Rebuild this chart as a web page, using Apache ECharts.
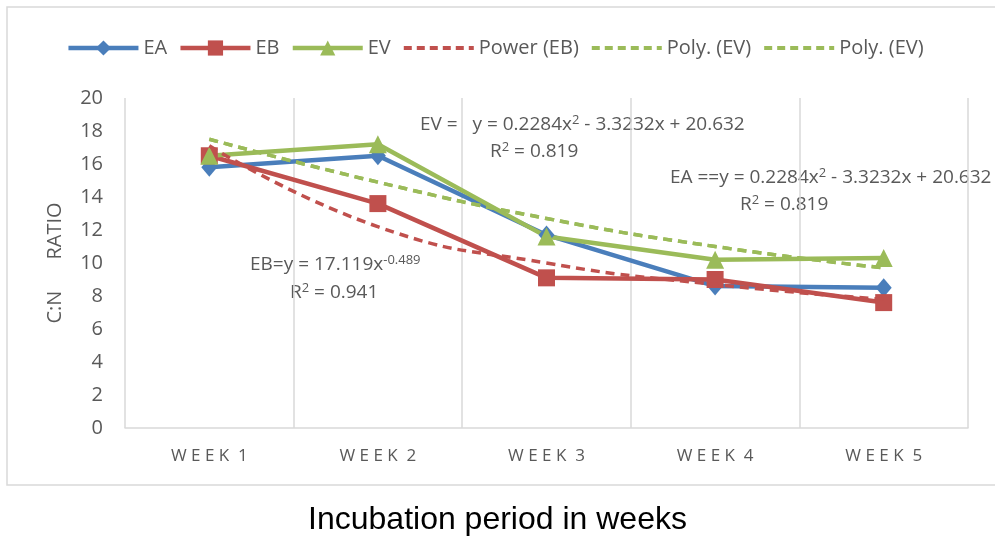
<!DOCTYPE html>
<html>
<head>
<meta charset="utf-8">
<script src="https://cdn.jsdelivr.net/npm/echarts@6/dist/echarts.min.js"></script>
<style>
  html, body { margin: 0; padding: 0; background: #fff; }
  #chart { width: 995px; height: 538px; }
</style>
</head>
<body>
<div id="chart"></div>
<script>
const categories = ['W E E K  1', 'W E E K  2', 'W E E K  3', 'W E E K  4', 'W E E K  5']
const yTicks = { min: 0, max: 20, interval: 2 }

const eaValues = [15.8, 16.5, 11.7, 8.6, 8.5]
const ebValues = [16.5, 13.6, 9.1, 9.0, 7.6]
const evValues = [16.5, 17.2, 11.6, 10.2, 10.3]
// trendlines
const powerEb = [17.1, 12.2, 10.0, 8.7, 7.8]
const polyEv = [17.5, 14.9, 12.7, 11.0, 9.7]

const BLUE = '#4a7ebb'
const RED = '#c0504d'
const GREEN = '#9bbb59'
const TEXT = '#595959'
const FONT = 'Open Sans, Noto Sans, sans-serif'

const chart = echarts.init(document.getElementById('chart'))

const eqRich = {
  a: { fontSize: 19, color: TEXT, fontFamily: FONT },
  s: { fontSize: 13, color: TEXT, fontFamily: FONT, verticalAlign: 'top', padding: [0, 0, 8, 0] }
}

const eqText = (left, top, text) => ({
  type: 'text',
  left: left,
  top: top,
  style: { text: text, rich: eqRich, fill: TEXT, font: '19px ' + FONT }
})

const mainLine = (name, data, color, symbol, size) => ({
  name: name,
  type: 'line',
  data: data,
  symbol: symbol,
  symbolSize: size,
  lineStyle: { color: color, width: 4.5 },
  itemStyle: { color: color },
  z: 3
})

const trendLine = (name, data, color) => ({
  name: name,
  type: 'line',
  data: data,
  smooth: true,
  symbol: 'none',
  lineStyle: { color: color, width: 3.5, type: [9, 6] },
  itemStyle: { color: color, opacity: 0 },
  z: 4
})

const legendItem = (name, width, dashed) => ({
  name: name,
  lineStyle: { width: width, type: dashed ? [8, 5] : 'solid' },
  itemStyle: dashed ? { opacity: 0 } : {}
})

const option = {
  animation: false,
  legend: {
    top: 33,
    left: 'center',
    itemWidth: 70,
    itemHeight: 19,
    itemGap: 11,
    textStyle: { color: TEXT, fontSize: 20, fontFamily: FONT },
    data: [
      legendItem('EA', 4.5, false),
      legendItem('EB', 4.5, false),
      legendItem('EV', 4.5, false),
      legendItem('Power (EB)', 4, true),
      legendItem('Poly. (EV)', 4, true),
      legendItem('Poly. (EV) ', 4, true)
    ]
  },
  grid: { left: 125, right: 27, top: 98, bottom: 110, outerBoundsMode: 'none' },
  xAxis: {
    type: 'category',
    data: categories,
    boundaryGap: true,
    axisLine: { lineStyle: { color: '#d9d9d9', width: 1.5 } },
    axisTick: { show: false },
    axisLabel: { color: TEXT, fontSize: 17, fontFamily: FONT, margin: 20 },
    splitLine: { show: true, lineStyle: { color: '#d9d9d9', width: 1.5 } }
  },
  yAxis: {
    type: 'value',
    min: yTicks.min,
    max: yTicks.max,
    interval: yTicks.interval,
    axisLine: { show: false },
    axisTick: { show: false },
    splitLine: { show: false },
    axisLabel: { color: TEXT, fontSize: 20, fontFamily: FONT, margin: 22 },
    name: 'C:N      RATIO',
    nameLocation: 'middle',
    nameRotate: 90,
    nameGap: 60,
    nameTextStyle: { color: TEXT, fontSize: 20, fontFamily: FONT }
  },
  graphic: [
    {
      type: 'rect',
      shape: { x: 7, y: 7, width: 1000, height: 478 },
      style: { fill: 'none', stroke: '#d9d9d9', lineWidth: 1.5 },
      silent: true,
      z: -1
    },
    {
      type: 'text',
      left: 'center',
      top: 504,
      style: {
        text: 'Incubation period in weeks',
        fill: '#000',
        font: '32px Liberation Sans, Arial, sans-serif'
      }
    },
    eqText(420, 114, '{a|EV =   y = 0.2284x}{s|2}{a| - 3.3232x + 20.632}'),
    eqText(490, 141, '{a|R}{s|2}{a| = 0.819}'),
    eqText(670, 167, '{a|EA ==y = 0.2284x}{s|2}{a| - 3.3232x + 20.632}'),
    eqText(740, 194, '{a|R}{s|2}{a| = 0.819}'),
    eqText(250, 254, '{a|EB=y = 17.119x}{s|-0.489}'),
    eqText(290, 282, '{a|R}{s|2}{a| = 0.941}')
  ],
  series: [
    mainLine('EA', eaValues, BLUE, 'diamond', [16, 19]),
    mainLine('EB', ebValues, RED, 'rect', 17),
    mainLine('EV', evValues, GREEN, 'triangle', 18),
    trendLine('Power (EB)', powerEb, RED),
    trendLine('Poly. (EV)', polyEv, GREEN),
    trendLine('Poly. (EV) ', polyEv, GREEN)
  ]
}

chart.setOption(option)
</script>
</body>
</html>
